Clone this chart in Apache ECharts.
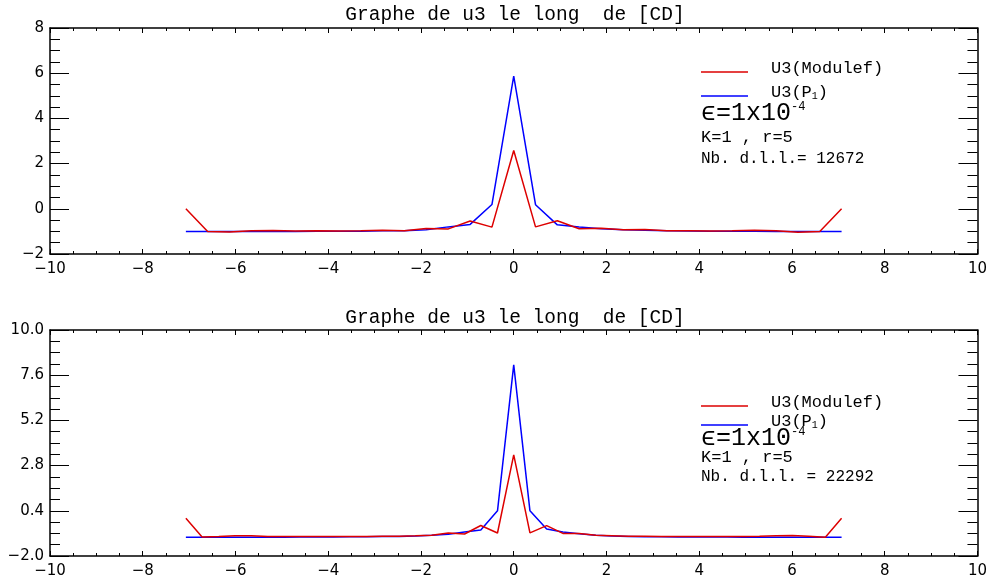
<!DOCTYPE html>
<html><head><meta charset="utf-8">
<script src="https://cdn.jsdelivr.net/npm/echarts@6/dist/echarts.min.js"></script>
<style>html,body{margin:0;padding:0;background:#fff}#c{width:990px;height:582px}</style>
</head><body><div id="c"></div>
<script>
// ---- data ----
const xTop = [-7.07,-6.60,-6.13,-5.66,-5.19,-4.71,-4.24,-3.77,-3.30,-2.83,-2.36,-1.89,-1.41,-0.94,-0.47,0,0.47,0.94,1.41,1.89,2.36,2.83,3.30,3.77,4.24,4.71,5.19,5.66,6.13,6.60,7.07];
const modulefTop = [0,-1.00,-1.03,-0.97,-0.96,-0.98,-0.97,-0.98,-0.97,-0.95,-0.97,-0.87,-0.89,-0.54,-0.81,2.58,-0.80,-0.53,-0.88,-0.86,-0.93,-0.92,-0.97,-0.97,-0.98,-0.97,-0.95,-0.97,-1.04,-1.00,0];
const p1Top = [-1.00,-1.00,-1.00,-1.00,-1.00,-1.00,-0.99,-0.99,-0.99,-0.97,-0.97,-0.93,-0.80,-0.69,0.19,5.87,0.18,-0.71,-0.80,-0.88,-0.93,-0.95,-0.97,-0.98,-0.99,-0.99,-0.99,-1.00,-1.00,-1.00,-1.00];

const xBot = [-7.07,-6.72,-6.36,-6.01,-5.66,-5.30,-4.95,-4.60,-4.24,-3.89,-3.54,-3.18,-2.83,-2.47,-2.12,-1.77,-1.41,-1.06,-0.71,-0.35,0,0.35,0.71,1.06,1.41,1.77,2.12,2.47,2.83,3.18,3.54,3.89,4.24,4.60,4.95,5.30,5.66,6.01,6.36,6.72,7.07];
const modulefBot = [0,-0.99,-0.97,-0.93,-0.92,-0.96,-0.97,-0.97,-0.97,-0.97,-0.97,-0.96,-0.95,-0.95,-0.93,-0.90,-0.78,-0.83,-0.38,-0.78,3.37,-0.77,-0.39,-0.80,-0.80,-0.90,-0.92,-0.95,-0.95,-0.96,-0.97,-0.97,-0.97,-0.97,-0.96,-0.95,-0.93,-0.91,-0.95,-1.00,0];
const p1Bot = [-1.00,-1.00,-1.00,-1.00,-1.00,-1.00,-1.00,-0.99,-0.99,-0.99,-0.98,-0.98,-0.97,-0.96,-0.94,-0.90,-0.85,-0.73,-0.62,0.40,8.15,0.40,-0.57,-0.73,-0.82,-0.90,-0.94,-0.96,-0.98,-0.98,-0.99,-0.99,-0.99,-0.99,-1.00,-1.00,-1.00,-1.00,-1.00,-1.00,-1.00];

const xTicks = {min:-10, max:10, interval:2};
const yTopTicks = {min:-2, max:8, interval:2};
const yBotTicks = {min:-2, max:10, interval:2.4};

const titleText = 'Graphe de u3 le long  de [CD]';
const nameModulef = 'U3(Modulef)';
const nameP1 = 'U3(P1)';
const dllTop = 'Nb. d.l.l.= 12672';
const dllBot = 'Nb. d.l.l. = 22292';
const kr = 'K=1 , r=5';

// ---- chart ----
const RED = '#dd0000', BLUE = '#0000ff';
const MONO = '"Liberation Mono", "DejaVu Serif"';
const SANS = 'DejaVu Sans';
const minus = s => String(s).replace('-', '\u2212');

function xAx(g, pos){
  return {type:'value', gridIndex:g, position:pos, min:xTicks.min, max:xTicks.max, interval:xTicks.interval,
    axisLine:{show:true, onZero:false, lineStyle:{color:'#000', width:1.5}},
    axisTick:{show:true, inside:true, length:5, lineStyle:{color:'#000', width:1}},
    minorTick:{show:true, splitNumber:4, length:3, lineStyle:{color:'#000', width:1}},
    splitLine:{show:false},
    axisLabel:{show:pos==='bottom', margin:8, color:'#000', fontFamily:SANS, fontSize:15,
      formatter:v=>minus(v)}};
}
function yAx(g, pos, t, dec){
  return {type:'value', gridIndex:g, position:pos, min:t.min, max:t.max, interval:t.interval,
    axisLine:{show:true, onZero:false, lineStyle:{color:'#000', width:1.5}},
    axisTick:{show:true, inside:true, length:19, lineStyle:{color:'#000', width:1}},
    minorTick:{show:true, splitNumber:4, length:10, lineStyle:{color:'#000', width:1}},
    splitLine:{show:false},
    axisLabel:{show:pos==='left', margin:6, color:'#000', fontFamily:SANS, fontSize:15,
      formatter:v=>minus(dec ? v.toFixed(1) : Math.round(v))}};
}
function legend(top, gap){
  return {orient:'vertical', left:701, top:top, itemWidth:47, itemHeight:1.5, itemGap:gap, icon:'rect',
    data:[nameModulef, nameP1], selectedMode:false, padding:0,
    formatter:n => n===nameP1 ? 'U3(P{s|1})' : n,
    textStyle:{color:'#000', fontFamily:MONO, fontSize:17, padding:[0,0,7,18],
      rich:{s:{fontSize:10, fontFamily:MONO, verticalAlign:'bottom', color:'#000'}}}};
}
function line(name, xs, ys, color, xi){
  return {type:'line', name:name, xAxisIndex:xi, yAxisIndex:xi, data:xs.map((x,i)=>[x, ys[i]]),
    symbol:'none', lineStyle:{color:color, width:1.5}, itemStyle:{color:color}, animation:false};
}
function ann(x, y, text, size, rich){
  return {type:'text', x:x, y:y, style:{text:text, fill:'#000', font:size+'px '+MONO,
    align:'left', verticalAlign:'middle', rich:rich}};
}
const epsRich = {a:{fontSize:25, fontFamily:MONO, fill:'#000'}, b:{fontSize:12, fontFamily:MONO, fill:'#000', verticalAlign:'top'}};
const epsText = '{a|\u03f5=1x10}{b|-4}';

const chart = echarts.init(document.getElementById('c'), null, {renderer:'canvas'});
chart.setOption({
  animation:false,
  backgroundColor:'#fff',
  title:[
    {text:titleText, left:515, top:5, padding:0, textAlign:'center', textStyle:{fontFamily:MONO, fontSize:19.5, fontWeight:'normal', color:'#000'}},
    {text:titleText, left:515, top:308, padding:0, textAlign:'center', textStyle:{fontFamily:MONO, fontSize:19.5, fontWeight:'normal', color:'#000'}}
  ],
  grid:[{left:50, right:10, top:28, height:226}, {left:50, right:10, top:330, height:226}],
  xAxis:[xAx(0,'bottom'), xAx(0,'top'), xAx(1,'bottom'), xAx(1,'top')],
  yAxis:[yAx(0,'left',yTopTicks,false), yAx(0,'right',yTopTicks,false), yAx(1,'left',yBotTicks,true), yAx(1,'right',yBotTicks,true)],
  legend:[legend(60,7), legend(394,2)],
  series:[
    line(nameP1, xTop, p1Top, BLUE, 0),
    line(nameModulef, xTop, modulefTop, RED, 0),
    line(nameP1, xBot, p1Bot, BLUE, 2),
    line(nameModulef, xBot, modulefBot, RED, 2)
  ],
  graphic:[
    ann(701, 113, epsText, 25, epsRich),
    ann(701, 137, kr, 17),
    ann(701, 159, dllTop, 16),
    ann(701, 438, epsText, 25, epsRich),
    ann(701, 457, kr, 17),
    ann(701, 477, dllBot, 16)
  ]
});
</script></body></html>
